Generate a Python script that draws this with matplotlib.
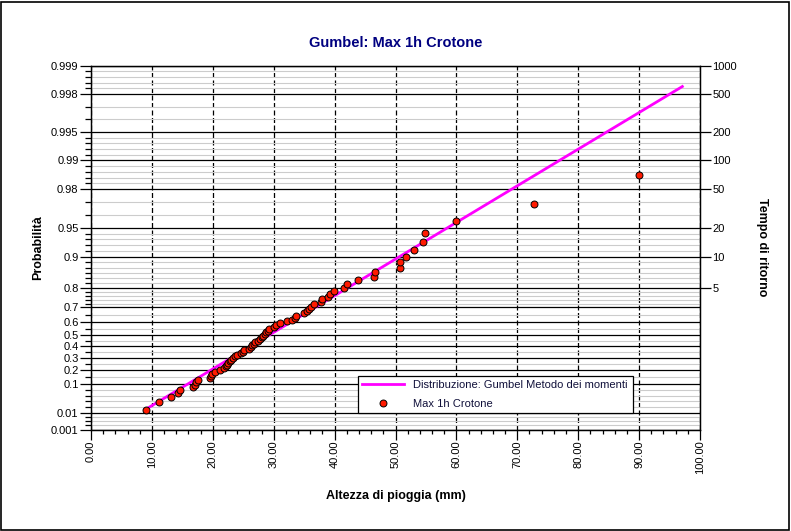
import numpy as np
import matplotlib
matplotlib.use('Agg')
import matplotlib.pyplot as plt
from matplotlib.ticker import FixedLocator, MultipleLocator, FormatStrFormatter
from matplotlib.patches import Rectangle

plt.rcParams['font.family'] = ['Liberation Sans', 'DejaVu Sans']

# annual 1h maxima (mm), sorted
altezze = [9.0, 11.1, 13.1, 14.3, 14.6, 16.8, 17.0, 17.2, 17.5, 19.5,
           19.7, 19.9, 20.4, 21.2, 21.8, 22.1, 22.3, 22.5, 22.8, 23.0,
           23.3, 23.7, 24.0, 24.6, 25.0, 25.2, 26.0, 26.3, 26.5, 26.8,
           27.0, 27.4, 27.8, 28.0, 28.3, 28.6, 28.8, 29.0, 29.3, 30.0,
           30.3, 31.0, 32.2, 33.0, 33.5, 33.7, 34.9, 35.4, 35.8, 36.1,
           36.6, 37.8, 38.0, 38.9, 39.2, 39.9, 41.6, 42.0, 43.9, 46.4,
           46.7, 50.7, 50.8, 51.7, 53.0, 54.5, 54.8, 60.0, 72.8, 90.0]

# fitted Gumbel (method of moments)
gumbel_u = 25.2
gumbel_alpha = 11.24
dist_x = [8.9, 97.1]

prob_ticks = [0.001, 0.01, 0.1, 0.2, 0.3, 0.4, 0.5, 0.6, 0.7, 0.8, 0.9,
              0.95, 0.98, 0.99, 0.995, 0.998, 0.999]
prob_labels = ['0.001', '0.01', '0.1', '0.2', '0.3', '0.4', '0.5', '0.6', '0.7',
               '0.8', '0.9', '0.95', '0.98', '0.99', '0.995', '0.998', '0.999']
minor_counts = [3, 4, 1, 1, 1, 1, 1, 1, 4, 5, 4, 2, 4, 4, 2, 4]
tr_ticks = [5, 10, 20, 50, 100, 200, 500, 1000]


def gumbel_y(p):
    return -np.log(-np.log(np.asarray(p, dtype=float)))


n = len(altezze)
pos = np.arange(1, n + 1) / (n + 1.0)

fig = plt.figure(figsize=(7.91, 5.31), dpi=100)
ax = fig.add_axes([91 / 791, 1 - 429.5 / 531, 609 / 791, 364 / 531])

ymaj = gumbel_y(prob_ticks)
ymin = []
for k, c in enumerate(minor_counts):
    a, b = ymaj[k], ymaj[k + 1]
    for j in range(1, c + 1):
        ymin.append(a + (b - a) * j / (c + 1))

ax.set_xlim(0, 100)
ax.set_ylim(ymaj[0], ymaj[-1])
ax.yaxis.set_major_locator(FixedLocator(ymaj))
ax.set_yticklabels(prob_labels)
ax.yaxis.set_minor_locator(FixedLocator(ymin))
ax.xaxis.set_major_locator(MultipleLocator(10))
ax.xaxis.set_minor_locator(MultipleLocator(2))
ax.xaxis.set_major_formatter(FormatStrFormatter('%.2f'))

ax.set_axisbelow(True)
ax.grid(which='minor', axis='y', color='#cccccc', linewidth=0.8)
ax.grid(which='major', axis='y', color='black', linewidth=0.9)
ax.grid(which='major', axis='x', color='black', linewidth=0.9, linestyle=(0, (4, 2)))

ax.tick_params(which='major', direction='out', length=8, width=0.9, labelsize=8, pad=1)
ax.tick_params(which='minor', direction='out', length=4, width=0.9)
ax.tick_params(axis='x', which='major', length=7, labelrotation=90)
ax.tick_params(axis='x', which='minor', length=3)
ax.tick_params(top=False, which='both')
for s in ax.spines.values():
    s.set_linewidth(0.9)

xl = np.array(dist_x)
ax.plot(xl, (xl - gumbel_u) / gumbel_alpha, color='#ff00ff', linewidth=2,
        label='Distribuzione: Gumbel Metodo dei momenti', zorder=3)
ax.plot(altezze, gumbel_y(pos), linestyle='none', marker='o', markersize=5,
        markerfacecolor='#ff1a00', markeredgecolor='black', markeredgewidth=0.7,
        label='Max 1h Crotone', zorder=4)

ax2 = ax.twinx()
ax2.set_ylim(ax.get_ylim())
ax2.yaxis.set_major_locator(FixedLocator(gumbel_y([1 - 1.0 / t for t in tr_ticks])))
ax2.set_yticklabels([str(t) for t in tr_ticks])
ax2.tick_params(direction='out', length=8, width=0.9, labelsize=8, pad=1)
for s in ax2.spines.values():
    s.set_linewidth(0.9)

ax.set_title('Gumbel: Max 1h Crotone', fontsize=10.5, fontweight='bold',
             color='#000080', pad=13)
ax.set_xlabel('Altezza di pioggia (mm)', fontsize=9, fontweight='bold', labelpad=11)
ax.set_ylabel('Probabilità', fontsize=9, fontweight='bold', labelpad=5)
ax2.set_ylabel('Tempo di ritorno', fontsize=9, fontweight='bold', rotation=270,
               labelpad=22)

leg = ax.legend(loc='lower left', bbox_to_anchor=(0.438, 0.045, 0.452, 0.11),
                mode='expand', fontsize=8, frameon=True, fancybox=False,
                framealpha=1, edgecolor='black', handlelength=3.8,
                labelspacing=0.75, borderpad=0.4, borderaxespad=0)
leg.get_frame().set_linewidth(0.9)
for t in leg.get_texts():
    t.set_color('#10103a')

fig.patches.append(Rectangle((0.5 / 791, 1.5 / 531), 788.5 / 791, 528 / 531,
                             transform=fig.transFigure, fill=False,
                             edgecolor='black', linewidth=1.2))

fig.savefig('out.png', dpi=100)
